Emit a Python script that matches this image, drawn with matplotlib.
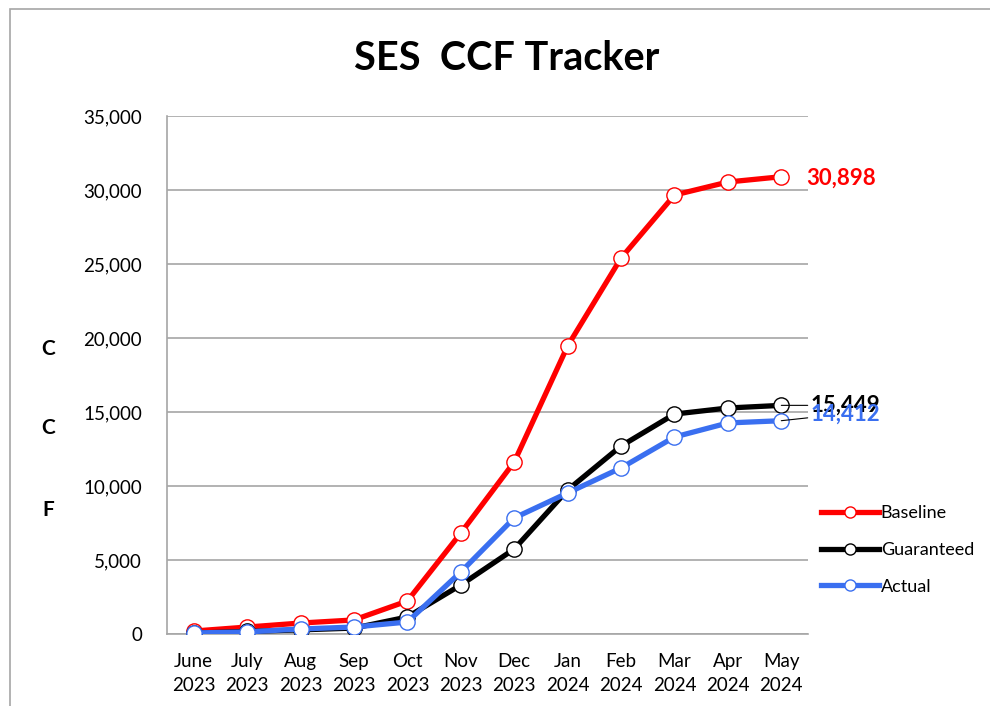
import matplotlib.pyplot as plt
from matplotlib.lines import Line2D
from matplotlib.patches import Rectangle
from matplotlib.ticker import FuncFormatter

plt.rcParams['font.family'] = ['Lato', 'DejaVu Sans']

months = ["June\n2023", "July\n2023", "Aug\n2023", "Sep\n2023", "Oct\n2023", "Nov\n2023",
          "Dec\n2023", "Jan\n2024", "Feb\n2024", "Mar\n2024", "Apr\n2024", "May\n2024"]
baseline = [200, 470, 740, 950, 2230, 6820, 11620, 19460, 25400, 29660, 30540, 30898]
guaranteed = [60, 170, 280, 400, 1150, 3310, 5740, 9730, 12700, 14860, 15270, 15449]
actual = [70, 140, 340, 470, 810, 4190, 7840, 9530, 11220, 13310, 14260, 14412]

RED = "#ff0000"
BLACK = "#000000"
BLUE = "#3a6ff0"

fig = plt.figure(figsize=(9.9, 7.06), dpi=100)
# chart border (only left/top visible in the reference)
fig.add_artist(Rectangle((10 / 990, -0.1), 1.2, (706 - 9) / 706 + 0.1, transform=fig.transFigure,
                         fill=False, edgecolor="#a6a6a6", linewidth=1.2))

ax = fig.add_axes([167 / 990, 1 - 634 / 706, (808 - 167) / 990, (634 - 116) / 706])
x = list(range(len(months)))

series = [("Baseline", baseline, RED), ("Guaranteed", guaranteed, BLACK), ("Actual", actual, BLUE)]
for name, vals, col in series:
    ax.plot(x, vals, color=col, linewidth=3.8, marker="o", markersize=11,
            markerfacecolor="white", markeredgecolor=col, markeredgewidth=1.0,
            label=name, solid_joinstyle="round", zorder=3)

ax.set_xlim(-0.5, len(months) - 0.5)
ax.set_ylim(0, 35000)
ax.set_yticks(range(0, 35001, 5000))
ax.yaxis.set_major_formatter(FuncFormatter(lambda v, p: f"{int(v):,}"))
ax.set_xticks(x)
ax.set_xticklabels(months, fontsize=13.5, linespacing=1.5)
ax.tick_params(axis="y", labelsize=13.5, length=0, pad=18)
ax.tick_params(axis="x", length=0, pad=14)
ax.grid(axis="y", color="#a6a6a6", linewidth=1.2, zorder=0)
for s in ["top", "right"]:
    ax.spines[s].set_visible(False)
for s in ["left", "bottom"]:
    ax.spines[s].set_color("#a6a6a6")
    ax.spines[s].set_linewidth(1.2)

# end-of-line value labels
ax.annotate(f"{baseline[-1]:,}", xy=(x[-1], baseline[-1]), xytext=(18, -1), textcoords="offset points",
            color=RED, fontsize=16, fontweight="bold", va="center", ha="left")
ax.annotate(f"{guaranteed[-1]:,}", xy=(x[-1], guaranteed[-1]), xytext=(21, 0), textcoords="offset points",
            color=BLACK, fontsize=16, fontweight="bold", va="center", ha="left",
            arrowprops=dict(arrowstyle="-", color=BLACK, lw=0.8, shrinkA=0, shrinkB=0))
ax.annotate(f"{actual[-1]:,}", xy=(x[-1], actual[-1]), xytext=(21, 5), textcoords="offset points",
            color=BLUE, fontsize=16, fontweight="bold", va="center", ha="left",
            arrowprops=dict(arrowstyle="-", color=BLACK, lw=0.8, shrinkA=0, shrinkB=0))

fig.text(507 / 990, 1 - 58 / 706, "SES  CCF Tracker", fontsize=28.5, fontweight="bold",
         ha="center", va="center")
for ch, yy in [("C", 349), ("C", 428), ("F", 510)]:
    fig.text(48 / 990, 1 - yy / 706, ch, fontsize=15, fontweight="bold", ha="center", va="center")

handles = [Line2D([0], [0], color=c, linewidth=3.8, marker="o", markersize=8,
                  markerfacecolor="white", markeredgecolor=c, markeredgewidth=1.0)
           for _, _, c in series]
fig.legend(handles, [n for n, _, _ in series], loc="upper left",
           bbox_to_anchor=(814 / 990, 1 - 498 / 706), frameon=False, fontsize=13,
           handlelength=3.2, handletextpad=0.1, labelspacing=1.15, borderaxespad=0)

fig.savefig("out.png", dpi=100)
